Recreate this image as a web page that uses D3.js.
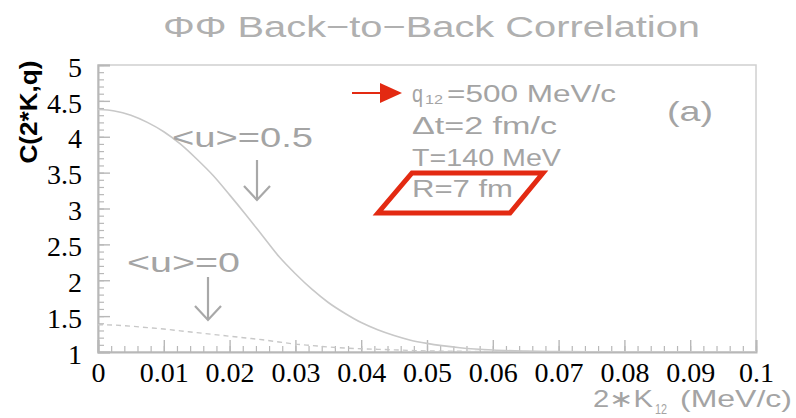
<!DOCTYPE html>
<html><head><meta charset="utf-8">
<script src="https://cdn.jsdelivr.net/npm/d3@7"></script>
<style>html,body{margin:0;padding:0;background:#fff;}svg{display:block;}</style>
</head><body>
<script>
// ---- data ----
const kValues = [0,0.0025,0.005,0.0075,0.01,0.0125,0.015,0.0175,0.02,0.0225,0.025,0.0275,0.03,0.0325,0.035,0.0375,0.04,0.0425,0.045,0.0475,0.05,0.055,0.06,0.065,0.07,0.08,0.09,0.1];
const solidU05 = [4.38,4.36,4.30,4.20,4.07,3.90,3.69,3.46,3.19,2.91,2.62,2.33,2.09,1.875,1.69,1.54,1.41,1.31,1.23,1.165,1.12,1.06,1.027,1.012,1.005,1.0,1.0,1.0];
const dashedU0 = [1.38,1.375,1.36,1.34,1.32,1.295,1.27,1.245,1.22,1.195,1.17,1.14,1.11,1.09,1.07,1.055,1.045,1.037,1.03,1.022,1.015,1.01,1.005,1.002,1.0,1.0,1.0,1.0];
const xTickValues = [0,0.01,0.02,0.03,0.04,0.05,0.06,0.07,0.08,0.09,0.1];
const xTickLabels = ["0","0.01","0.02","0.03","0.04","0.05","0.06","0.07","0.08","0.09","0.1"];
const yTickValues = [1,1.5,2,2.5,3,3.5,4,4.5,5];
const yTickLabels = ["1","1.5","2","2.5","3","3.5","4","4.5","5"];
const paramLines = ["=500 MeV/c","Δt=2 fm/c","T=140 MeV","R=7 fm"];

const W = 796, H = 418;
const m = {left: 98, right: 40, top: 65, bottom: 66};
const svg = d3.select("body").append("svg").attr("width", W).attr("height", H);

const x = d3.scaleLinear().domain([0, 0.1]).range([m.left, W - m.right]);
const y = d3.scaleLinear().domain([1, 5]).range([H - m.bottom, m.top]);

const axisGray = "#b8b8b8";
const textGray = "#a4a4a4";
const serif = "'Liberation Serif','Times New Roman',serif";
const sans = "'Liberation Sans',Arial,sans-serif";

function label(xp, yp, str, size, len, fill) {
  const t = svg.append("text").attr("x", xp).attr("y", yp).attr("font-family", sans)
    .attr("font-size", size).attr("fill", fill || textGray).text(str);
  if (len) t.attr("textLength", len).attr("lengthAdjust", "spacingAndGlyphs");
  return t;
}

// frame
svg.append("rect").attr("x", x(0)).attr("y", y(5)).attr("width", x(0.1) - x(0)).attr("height", y(1) - y(5))
  .attr("fill", "none").attr("stroke", "#d0d0d0").attr("stroke-width", 1.5);

// minor ticks
const xMinor = d3.range(0, 0.1001, 0.002);
const yMinor = d3.range(1, 5.001, 0.1);
svg.append("g").attr("transform", `translate(0,${y(1)})`)
  .call(d3.axisBottom(x).tickValues(xMinor).tickSize(-6).tickFormat(""))
  .call(g => { g.select(".domain").remove(); g.selectAll("line").attr("stroke", axisGray).attr("stroke-width", 1.2); });
svg.append("g").attr("transform", `translate(${x(0)},0)`)
  .call(d3.axisLeft(y).tickValues(yMinor).tickSize(-6).tickFormat(""))
  .call(g => { g.select(".domain").remove(); g.selectAll("line").attr("stroke", axisGray).attr("stroke-width", 1.2); });

// major axes
const xAxis = svg.append("g").attr("transform", `translate(0,${y(1)})`)
  .call(d3.axisBottom(x).tickValues(xTickValues).tickSize(-12).tickPadding(10)
    .tickFormat((d, i) => xTickLabels[i]));
xAxis.select(".domain").attr("stroke", axisGray).attr("stroke-width", 2);
xAxis.selectAll("line").attr("stroke", axisGray).attr("stroke-width", 1.4);
xAxis.selectAll("text").attr("font-family", serif).attr("font-size", 28).attr("fill", "#000");

const yAxis = svg.append("g").attr("transform", `translate(${x(0)},0)`)
  .call(d3.axisLeft(y).tickValues(yTickValues).tickSize(-12).tickPadding(16)
    .tickFormat((d, i) => yTickLabels[i]));
yAxis.select(".domain").attr("stroke", axisGray).attr("stroke-width", 2);
yAxis.selectAll("line").attr("stroke", axisGray).attr("stroke-width", 1.4);
yAxis.selectAll("text").attr("font-family", serif).attr("font-size", 28).attr("fill", "#000").attr("dy", "0.4em");

// curves
svg.append("clipPath").attr("id", "clip").append("rect")
  .attr("x", x(0)).attr("y", y(5)).attr("width", x(0.1) - x(0)).attr("height", y(1) - y(5));
const line = d3.line().x(d => x(d[0])).y(d => y(d[1])).curve(d3.curveMonotoneX);
svg.append("path").datum(kValues.map((k, i) => [k, solidU05[i]]))
  .attr("d", line).attr("fill", "none").attr("stroke", "#c8c8c8").attr("stroke-width", 1.6)
  .attr("clip-path", "url(#clip)");
svg.append("path").datum(kValues.map((k, i) => [k, dashedU0[i]]))
  .attr("d", line).attr("fill", "none").attr("stroke", "#c8c8c8").attr("stroke-width", 1.4)
  .attr("stroke-dasharray", "5,4").attr("clip-path", "url(#clip)");

// title
label(163, 37, "ΦΦ Back−to−Back Correlation", 30, 537, "#b0b0b0");

// y title
svg.append("text").attr("transform", "translate(37,112) rotate(-90)").attr("text-anchor", "middle")
  .attr("font-family", sans).attr("font-weight", "bold").attr("font-size", 24).attr("fill", "#000")
  .attr("textLength", 103).attr("lengthAdjust", "spacingAndGlyphs")
  .text("C(2*K,q)");

// x title
label(593, 407, "2∗K", 24, 60);
label(655, 414, "12", 14, 12);
label(680, 407, "(MeV/c)", 24, 112);

// parameter lines
label(412, 102, "q", 23, 11);
label(425, 104, "12", 12, 18);
label(447, 102, paramLines[0], 23, 169);
label(412, 134, paramLines[1], 23, 145);
label(412, 166, paramLines[2], 23, 149);
label(412, 197, paramLines[3], 23, 101);
// (a)
label(667, 121, "(a)", 28, 46);

// <u> labels
label(172, 147, "<u>=0.5", 27, 141);
label(127, 272, "<u>=0", 27, 113);

// gray arrows
function grayArrow(cx, y0, y1) {
  const g = svg.append("g").attr("stroke", "#a8a8a8").attr("stroke-width", 2.2).attr("fill", "none");
  g.append("line").attr("x1", cx).attr("x2", cx).attr("y1", y0).attr("y2", y1);
  g.append("path").attr("d", `M${cx - 13},${y1 - 14} L${cx},${y1} L${cx + 13},${y1 - 14}`);
}
grayArrow(257, 160, 200);
grayArrow(208, 277, 320);

// red annotations
const red = "#e32a12";
svg.append("line").attr("x1", 352).attr("x2", 384).attr("y1", 93).attr("y2", 93).attr("stroke", red).attr("stroke-width", 2);
svg.append("path").attr("d", "M380,83 L402,93 L380,103 Z").attr("fill", red);
svg.append("path").attr("d", "M412,173 L543,173 L510,213 L378,213 Z").attr("fill", "none")
  .attr("stroke", red).attr("stroke-width", 5).attr("stroke-linejoin", "miter");
</script>
</body></html>
